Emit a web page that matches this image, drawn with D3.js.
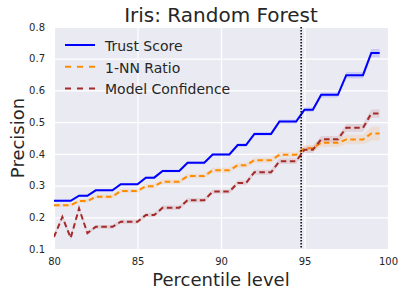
<!DOCTYPE html>
<html>
<head>
<meta charset="utf-8">
<script src="https://cdn.jsdelivr.net/npm/d3@7"></script>
<style>
  body { margin: 0; background: #fff; }
  .chart { width: 404px; height: 297px; }
  text { font-family: "DejaVu Sans", sans-serif; fill: #262626; }
</style>
</head>
<body>
<div class="chart"></div>
<script>
// percentile levels on the x axis
let percentiles = [80, 80.5, 81, 81.5, 82, 82.5, 83, 83.5, 84, 84.5,
  85, 85.5, 86, 86.5, 87, 87.5, 88, 88.5, 89, 89.5,
  90, 90.5, 91, 91.5, 92, 92.5, 93, 93.5, 94, 94.5,
  95, 95.5, 96, 96.5, 97, 97.5, 98, 98.5, 99, 99.5];

// precision values
let trustScore = [0.252, 0.252, 0.252, 0.268, 0.268, 0.285, 0.285, 0.285, 0.304, 0.304,
  0.304, 0.325, 0.325, 0.346, 0.346, 0.346, 0.372, 0.372, 0.372, 0.398,
  0.398, 0.398, 0.428, 0.428, 0.463, 0.463, 0.463, 0.502, 0.502, 0.502,
  0.539, 0.539, 0.586, 0.586, 0.586, 0.648, 0.648, 0.648, 0.718, 0.718];

let nnRatio = [0.238, 0.238, 0.238, 0.251, 0.251, 0.265, 0.265, 0.265, 0.283, 0.283,
  0.283, 0.298, 0.298, 0.312, 0.312, 0.312, 0.330, 0.330, 0.330, 0.348,
  0.348, 0.348, 0.364, 0.364, 0.380, 0.380, 0.380, 0.397, 0.397, 0.397,
  0.418, 0.418, 0.435, 0.435, 0.435, 0.445, 0.445, 0.445, 0.464, 0.464];

let modelConfidence = [0.138, 0.201, 0.135, 0.228, 0.150, 0.170, 0.170, 0.170, 0.186, 0.186,
  0.186, 0.207, 0.207, 0.230, 0.230, 0.230, 0.254, 0.254, 0.254, 0.281,
  0.281, 0.281, 0.308, 0.308, 0.342, 0.342, 0.342, 0.377, 0.377, 0.377,
  0.413, 0.413, 0.446, 0.446, 0.446, 0.482, 0.482, 0.482, 0.527, 0.527];

// half width of the shaded band around each line
let trustSpread = [0.004, 0.004, 0.004, 0.004, 0.004, 0.004, 0.004, 0.004, 0.004, 0.004,
  0.004, 0.004, 0.004, 0.005, 0.005, 0.005, 0.005, 0.005, 0.005, 0.005,
  0.005, 0.005, 0.006, 0.006, 0.006, 0.006, 0.006, 0.006, 0.006, 0.006,
  0.007, 0.007, 0.008, 0.008, 0.008, 0.010, 0.010, 0.010, 0.013, 0.013];

let nnSpread = [0.005, 0.005, 0.005, 0.006, 0.006, 0.006, 0.006, 0.006, 0.006, 0.006,
  0.006, 0.007, 0.007, 0.007, 0.007, 0.007, 0.007, 0.007, 0.007, 0.008,
  0.008, 0.008, 0.008, 0.008, 0.008, 0.008, 0.008, 0.008, 0.008, 0.008,
  0.010, 0.010, 0.013, 0.013, 0.013, 0.015, 0.015, 0.015, 0.022, 0.022];

let confSpread = [0.006, 0.006, 0.006, 0.006, 0.006, 0.006, 0.006, 0.006, 0.006, 0.006,
  0.006, 0.007, 0.007, 0.007, 0.007, 0.007, 0.007, 0.007, 0.007, 0.007,
  0.007, 0.007, 0.008, 0.008, 0.008, 0.008, 0.008, 0.009, 0.009, 0.009,
  0.010, 0.010, 0.010, 0.010, 0.010, 0.012, 0.012, 0.012, 0.013, 0.013];

let seriesNames = ["Trust Score", "1-NN Ratio", "Model Confidence"];
let seriesColors = ["#0000ff", "#ff8c00", "#a52a2a"];

let xTicks = [80, 85, 90, 95, 100];
let yTicks = [0.1, 0.2, 0.3, 0.4, 0.5, 0.6, 0.7, 0.8];
let cutoff = 94.8;

let margin, width, height, xScale, yScale, svg, plot, theData;

function init() {
  let values = [trustScore, nnRatio, modelConfidence];
  let spreads = [trustSpread, nnSpread, confSpread];

  theData = seriesNames.map((name, i) => {
    return {
      name: name,
      color: seriesColors[i],
      dashed: i > 0,
      values: percentiles.map((p, j) => {
        return { pct: p, val: values[i][j], spread: spreads[i][j] };
      })
    };
  });

  setDimensions();
  setScales();
  draw();
}

function setDimensions() {
  margin = { top: 27, right: 16, bottom: 48, left: 54 };
  width = 404 - margin.left - margin.right;
  height = 297 - margin.top - margin.bottom;
}

function setScales() {
  xScale = d3.scaleLinear().domain([80, 100]).range([0, width]);
  yScale = d3.scaleLinear().domain([0.1, 0.8]).range([height, 0]);
}

function draw() {
  svg = d3.select(".chart").append("svg")
    .attr("width", 404)
    .attr("height", 297);

  plot = svg.append("g")
    .attr("transform", `translate(${margin.left},${margin.top})`);

  plot.append("rect")
    .attr("width", width)
    .attr("height", height)
    .attr("fill", "#eaeaf2");

  svg.append("clipPath").attr("id", "clip")
    .append("rect").attr("width", width).attr("height", height);

  // grid
  plot.append("g")
    .call(d3.axisBottom(xScale).tickValues(xTicks).tickSize(height).tickFormat(""))
    .call(g => g.select(".domain").remove())
    .call(g => g.selectAll("line").attr("stroke", "#fff").attr("stroke-width", 1.2));

  plot.append("g")
    .call(d3.axisLeft(yScale).tickValues(yTicks).tickSize(-width).tickFormat(""))
    .call(g => g.select(".domain").remove())
    .call(g => g.selectAll("line").attr("stroke", "#fff").attr("stroke-width", 1.2));

  // tick labels
  plot.append("g")
    .attr("transform", `translate(0,${height})`)
    .call(d3.axisBottom(xScale).tickValues(xTicks).tickSize(0).tickPadding(9))
    .call(g => g.select(".domain").remove())
    .call(g => g.selectAll("text").attr("font-size", 10).attr("font-family", "DejaVu Sans"));

  plot.append("g")
    .call(d3.axisLeft(yScale).tickValues(yTicks).tickSize(0).tickPadding(9).tickFormat(d3.format(".1f")))
    .call(g => g.select(".domain").remove())
    .call(g => g.selectAll("text").attr("font-size", 10).attr("font-family", "DejaVu Sans"));

  let area = d3.area()
    .x(d => xScale(d.pct))
    .y0(d => yScale(d.val - d.spread))
    .y1(d => yScale(d.val + d.spread));

  let line = d3.line()
    .x(d => xScale(d.pct))
    .y(d => yScale(d.val));

  let lines = plot.append("g").attr("clip-path", "url(#clip)");

  let group = lines.selectAll(".line-group")
    .data(theData)
    .enter()
    .append("g")
    .attr("class", "line-group");

  group.append("path")
    .attr("d", d => area(d.values))
    .attr("fill", d => d.color)
    .attr("fill-opacity", 0.12);

  group.append("path")
    .attr("d", d => line(d.values))
    .attr("fill", "none")
    .attr("stroke", d => d.color)
    .attr("stroke-width", 2)
    .attr("stroke-dasharray", d => d.dashed ? "5.5,3.5" : null);

  // cutoff marker
  lines.append("line")
    .attr("x1", xScale(cutoff)).attr("x2", xScale(cutoff))
    .attr("y1", 0).attr("y2", height)
    .attr("stroke", "#000")
    .attr("stroke-width", 1.5)
    .attr("stroke-dasharray", "1.5,1.5");

  // legend
  let legend = plot.selectAll(".legend")
    .data(theData)
    .enter()
    .append("g")
    .attr("transform", (d, i) => `translate(11,${18 + i * 21.7})`);

  legend.append("line")
    .attr("x1", 0).attr("x2", 30)
    .attr("stroke", d => d.color)
    .attr("stroke-width", 2)
    .attr("stroke-dasharray", d => d.dashed ? "6,6" : null);

  legend.append("text")
    .attr("x", 40)
    .attr("y", 6)
    .attr("font-size", 14)
    .text(d => d.name);

  // titles
  svg.append("text")
    .attr("x", margin.left + width / 2)
    .attr("y", 21.5)
    .attr("text-anchor", "middle")
    .attr("font-size", 20)
    .text("Iris: Random Forest");

  svg.append("text")
    .attr("x", margin.left + width / 2)
    .attr("y", 286)
    .attr("text-anchor", "middle")
    .attr("font-size", 18)
    .text("Percentile level");

  svg.append("text")
    .attr("transform", `translate(23.5,${margin.top + height / 2}) rotate(-90)`)
    .attr("text-anchor", "middle")
    .attr("font-size", 18)
    .text("Precision");
}

init();
</script>
</body>
</html>
